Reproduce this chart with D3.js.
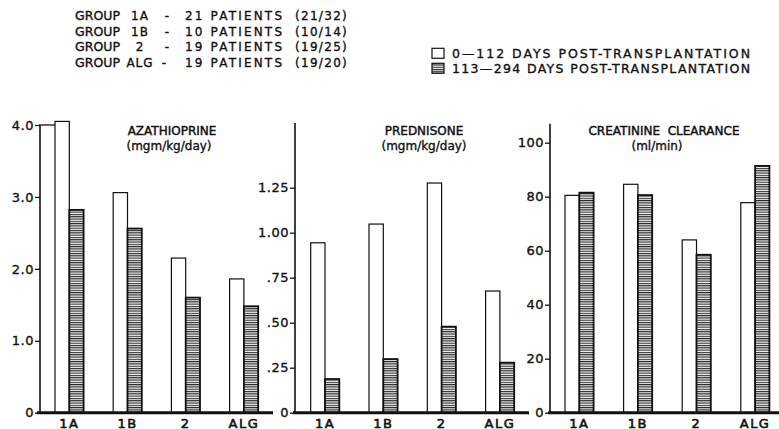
<!DOCTYPE html>
<html>
<head>
<meta charset="utf-8">
<script src="https://cdn.jsdelivr.net/npm/d3@7"></script>
<style>
  html, body { margin: 0; padding: 0; background: #fff; }
  svg { display: block; }
  text { font-family: "DejaVu Sans", sans-serif; fill: #111; stroke: #111; stroke-width: 0.35px; }
</style>
</head>
<body>
<svg id="chart" width="779" height="429"></svg>
<script>
// ---------- data ----------
const categories = ["1A", "1B", "2", "ALG"];
const patientCounts = [21, 10, 19, 19];
const patientTotals = [32, 14, 25, 20];
const periodLabels = ["0\u2014112 DAYS POST-TRANSPLANTATION", "113\u2014294 DAYS POST-TRANSPLANTATION"];

const azaEarly = [4.05, 3.06, 2.15, 1.86];
const azaLate = [2.82, 2.56, 1.60, 1.48];
const predEarly = [0.944, 1.048, 1.276, 0.676];
const predLate = [0.187, 0.298, 0.478, 0.278];
const creatEarly = [80.5, 84.6, 64.0, 77.8];
const creatLate = [81.5, 80.6, 58.5, 91.4];

const azaTicks = [0, 1, 2, 3, 4];
const predTicks = [0, 0.25, 0.5, 0.75, 1, 1.25];
const creatTicks = [0, 20, 40, 60, 80, 100];

const panelTitles = ["AZATHIOPRINE", "PREDNISONE", "CREATININE  CLEARANCE"];
const panelUnits = ["(mgm/kg/day)", "(mgm/kg/day)", "(ml/min)"];

// ---------- drawing ----------
const svg = d3.select("#chart");
const defs = svg.append("defs");
const pat = defs.append("pattern").attr("id", "hatch")
  .attr("patternUnits", "userSpaceOnUse").attr("width", 6).attr("height", 2.3);
pat.append("rect").attr("width", 6).attr("height", 2.3).attr("fill", "#eeeeee");
pat.append("rect").attr("width", 6).attr("height", 1.1).attr("fill", "#2a2a2a");

const y0px = 412.7;
const bw = 14.3;

const panels = [
  { early: azaEarly, late: azaLate, ticks: azaTicks, max: 4, top: 125, axisTop: 4,
    axisX: 40, c0: 69.3, step: 58.2, base: [37, 273], frameTop: true,
    fmt: v => v === 0 ? "0" : d3.format(".1f")(v),
    title: panelTitles[0], unit: panelUnits[0], tx: 172, ux: 169 },
  { early: predEarly, late: predLate, ticks: predTicks, max: 1.25, top: 187.7, axisTop: 1.61,
    axisX: 295, c0: 325, step: 58.3, base: [293, 529], frameTop: false,
    fmt: v => v === 0 ? "0" : d3.format(".2f")(v).replace(/^0/, ""),
    title: panelTitles[1], unit: panelUnits[1], tx: 424, ux: 424 },
  { early: creatEarly, late: creatLate, ticks: creatTicks, max: 100, top: 142.7, axisTop: 107,
    axisX: 550, c0: 579.3, step: 58.6, base: [548, 779], frameTop: false,
    fmt: v => String(v),
    title: panelTitles[2], unit: panelUnits[2], tx: 664, ux: 657 }
];

panels.forEach(p => {
  const g = svg.append("g");
  const y = d3.scaleLinear().domain([0, p.max]).range([y0px, p.top]);
  const x = d3.scalePoint().domain(categories).range([p.c0, p.c0 + 3 * p.step]);

  // y axis
  const ax = g.append("g").attr("transform", `translate(${p.axisX},0)`)
    .call(d3.axisLeft(y).tickValues(p.ticks).tickFormat(p.fmt).tickSize(5).tickSizeOuter(0).tickPadding(1));
  ax.select(".domain").remove();
  ax.selectAll(".tick line").attr("stroke", "#111").attr("stroke-width", 1.3);
  ax.selectAll(".tick text").attr("font-size", 13).attr("fill", "#111").style("letter-spacing", "0.5px");
  g.append("line").attr("x1", p.axisX).attr("x2", p.axisX)
    .attr("y1", y(0)).attr("y2", y(p.axisTop))
    .attr("stroke", "#111").attr("stroke-width", 1.6);
  if (p.frameTop) {
    g.append("line").attr("x1", p.axisX - 1).attr("x2", x(categories[0]) - bw)
      .attr("y1", y(p.axisTop)).attr("y2", y(p.axisTop))
      .attr("stroke", "#111").attr("stroke-width", 1.3);
  }

  // bars
  g.selectAll(".early").data(p.early).enter().append("rect")
    .attr("x", (d, i) => x(categories[i]) - bw)
    .attr("y", d => y(d))
    .attr("width", bw).attr("height", d => y(0) - y(d))
    .attr("fill", "#fff").attr("stroke", "#111").attr("stroke-width", 1.2);
  g.selectAll(".late").data(p.late).enter().append("rect")
    .attr("x", (d, i) => x(categories[i]))
    .attr("y", d => y(d))
    .attr("width", bw).attr("height", d => y(0) - y(d))
    .attr("fill", "url(#hatch)").attr("stroke", "#111").attr("stroke-width", 1.8);

  // baseline
  g.append("line").attr("x1", p.base[0]).attr("x2", p.base[1])
    .attr("y1", y(0)).attr("y2", y(0))
    .attr("stroke", "#111").attr("stroke-width", 3);

  // category labels
  g.selectAll(".cat").data(categories).enter().append("text")
    .attr("x", d => x(d)).attr("y", 427.5)
    .attr("text-anchor", "middle").attr("font-size", 13)
    .style("stroke-width", "0.6px")
    .style("letter-spacing", "1.5px")
    .text(d => d);

  // titles
  g.append("text").attr("x", p.tx).attr("y", 135).attr("text-anchor", "middle")
    .attr("font-size", 12).style("white-space", "pre").style("stroke-width", "0.45px").text(p.title);
  g.append("text").attr("x", p.ux).attr("y", 150).attr("text-anchor", "middle")
    .attr("font-size", 12).text(p.unit);
});

// ---------- group legend (top left) ----------
const leg = svg.append("g");
categories.forEach((c, i) => {
  const by = 20 + i * 15.5;
  leg.append("text").attr("x", 75).attr("y", by).attr("font-size", 12)
    .attr("textLength", 45).attr("lengthAdjust", "spacingAndGlyphs").text("GROUP");
  leg.append("text").attr("x", 140).attr("y", by).attr("font-size", 12)
    .attr("text-anchor", "middle").style("letter-spacing", "1px").text(c);
  leg.append("text").attr("x", i === 3 ? 164 : 167).attr("y", by).attr("font-size", 12)
    .attr("text-anchor", "middle").text("-");
  leg.append("text").attr("x", 185).attr("y", by).attr("font-size", 12)
    .attr("textLength", 97).attr("lengthAdjust", "spacing")
    .text(patientCounts[i] + " PATIENTS");
  leg.append("text").attr("x", 295).attr("y", by).attr("font-size", 12)
    .style("letter-spacing", "1.3px")
    .text("(" + patientCounts[i] + "/" + patientTotals[i] + ")");
});

// ---------- period legend (top right) ----------
const leg2 = svg.append("g");
periodLabels.forEach((t, i) => {
  const by = 58.3 + i * 15;
  leg2.append("rect").attr("x", 432).attr("y", by - 10).attr("width", 12).attr("height", 10)
    .attr("fill", i === 0 ? "#fff" : "url(#hatch)").attr("stroke", "#111").attr("stroke-width", 1.2);
  leg2.append("text").attr("x", 452).attr("y", by).attr("font-size", 12.5)
    .attr("textLength", 298).attr("lengthAdjust", "spacing").text(t);
});
</script>
</body>
</html>
